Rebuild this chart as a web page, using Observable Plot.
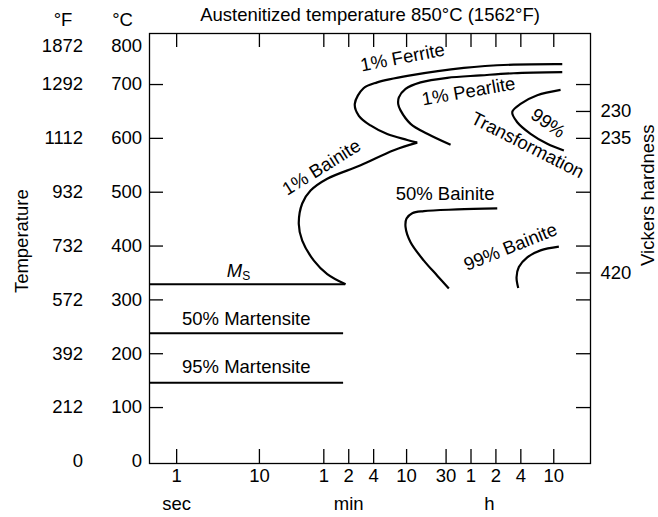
<!DOCTYPE html>
<html>
<head>
<meta charset="utf-8">
<script src="https://cdn.jsdelivr.net/npm/d3@7"></script>
<script src="https://cdn.jsdelivr.net/npm/@observablehq/plot@0.6"></script>
<style>
  html, body { margin: 0; padding: 0; background: #fff; }
  #chart svg { display: block; }
</style>
</head>
<body>
<div id="chart"></div>
<script>
// ---- Time axis (seconds, logarithmic) ----
const timeTicks = [1, 10, 60, 120, 240, 600, 1800, 3600, 7200, 14400, 36000];
const timeTickLabels = ["1", "10", "1", "2", "4", "10", "30", "1", "2", "4", "10"];
const timeUnits = ["sec", "min", "h"];
const timeUnitAt = [1, 120, 6000];
const timeStart = 0.47;
const timeEnd = 100000;

// ---- Temperature axis (°C) with °F column ----
const celsiusTicks = [0, 100, 200, 300, 400, 500, 600, 700, 800];
const fahrenheitLabels = ["0", "212", "392", "572", "732", "932", "1112", "1292", "1872"];
const innerCelsiusTicks = [100, 200, 300, 400, 500, 600, 700];

// ---- Vickers hardness marks on the right edge ----
const hardnessTicks = [100, 200, 300, 350, 400, 500, 600, 650, 700];
const hardnessLabels = ["", "", "", "420", "", "", "235", "230", ""];

// ---- Martensite lines: temperature (°C) and end time (s) ----
const martensiteNames = ["Ms", "50% Martensite", "95% Martensite"];
const martensiteTemps = [329, 238, 146];
const martensiteEnds = [110, 104, 104];

// ---- Transformation curves: time (s), temperature (°C) ----
const ferrite1Time = [45600, 11750, 2950, 668, 265, 181, 142, 159, 220, 350, 611, 807];
const ferrite1Temp = [738, 737, 731, 717, 704, 693, 664, 642, 624, 608, 597, 592];

const bainite1Time = [807, 421, 167, 66, 41.5, 32.9, 29.9, 32.9, 45.5, 66, 110];
const bainite1Temp = [592, 578, 550, 525, 503, 479, 441, 410, 373, 348, 329];

const pearlite1Time = [45600, 11750, 4700, 1860, 885, 583, 484, 476, 507, 670, 1066, 2040];
const pearlite1Temp = [723, 721, 717, 712.5, 704, 692, 676, 663, 652, 627, 608.5, 588];

const transf99Time = [43500, 22740, 14290, 11340, 13030, 18870, 30030, 47650];
const transf99Temp = [690, 680, 664, 649, 630, 608.5, 590, 577.5];

const bainite50Time = [7470, 2456, 970, 702, 599, 583, 670, 970, 1408, 1944];
const bainite50Temp = [470, 468, 465, 461, 451, 435, 407, 373, 345, 321];

const bainite99Time = [41470, 24920, 17220, 13630, 12780, 13400];
const bainite99Temp = [399, 392, 379, 361, 342, 322];

// ---- Curve labels: text, time (s), temperature (°C), angle (deg) ----
const labelTexts = ["1% Ferrite", "1% Pearlite", "99%", "Transformation", "1% Bainite",
                    "50% Bainite", "99% Bainite", "50% Martensite", "95% Martensite"];
const labelTimes = [536, 3365, 30700, 17360, 56.3, 1749, 10820, 6.93, 6.93];
const labelTemps = [750, 687, 628, 587, 546, 497, 398, 265, 175.5];
const labelAngles = [-11, -10, 35, 27, -32, 0, -22, 0, 0];

// Martensite-start symbol position
const msTime = 6.2;
const msTemp = 343;

// Build tables for the marks
function curve(name, times, temps) {
  return times.map((t, i) => ({name, t, T: temps[i]}));
}
const curves = [
  ...curve("1% Ferrite", ferrite1Time, ferrite1Temp),
  ...curve("1% Bainite", bainite1Time, bainite1Temp),
  ...curve("1% Pearlite", pearlite1Time, pearlite1Temp),
  ...curve("99% Transformation", transf99Time, transf99Temp),
  ...curve("50% Bainite", bainite50Time, bainite50Temp),
  ...curve("99% Bainite", bainite99Time, bainite99Temp)
];
const martensite = martensiteNames.map((name, i) => ({
  name, t1: timeStart, t2: martensiteEnds[i], T: martensiteTemps[i]
}));
const labels = labelTexts.map((text, i) => ({
  text, t: labelTimes[i], T: labelTemps[i], angle: labelAngles[i]
}));
const celsius = celsiusTicks.map((c, i) => ({c, f: fahrenheitLabels[i]}));
const hardness = hardnessTicks.map((T, i) => ({T, label: hardnessLabels[i]}));
const units = timeUnits.map((u, i) => ({u, t: timeUnitAt[i]}));

const W = 658, H = 517;
const mL = 149, mR = 68, mT = 33, mB = 54;
const innerW = W - mL - mR, innerH = H - mT - mB;
const tickLen = 14;
const ink = "#000";

const chart = Plot.plot({
  width: W,
  height: H,
  marginLeft: mL,
  marginRight: mR,
  marginTop: mT,
  marginBottom: mB,
  x: {type: "log", domain: [timeStart, timeEnd], axis: null},
  y: {domain: [-3.9, 794.8], axis: null},
  style: {
    fontFamily: "'Liberation Sans', Arial, Helvetica, sans-serif",
    fontSize: "18.5px",
    background: "#fff",
    color: ink
  },
  marks: [
    Plot.frame({stroke: ink, strokeWidth: 1.3}),

    // inward ticks on all four sides
    Plot.tickX(timeTicks, {x: d => d, stroke: ink, strokeWidth: 1.3, insetTop: innerH - tickLen}),
    Plot.tickX(timeTicks, {x: d => d, stroke: ink, strokeWidth: 1.3, insetBottom: innerH - tickLen}),
    Plot.tickY(innerCelsiusTicks, {y: d => d, stroke: ink, strokeWidth: 1.3, insetRight: innerW - tickLen}),
    Plot.tickY(hardness, {y: "T", stroke: ink, strokeWidth: 1.3, insetLeft: innerW - tickLen}),

    // time tick labels and units
    Plot.text(timeTicks, {x: d => d, text: (d, i) => timeTickLabels[i], frameAnchor: "bottom",
      lineAnchor: "bottom", dy: 18.4, fill: ink}),
    Plot.text(units, {x: "t", text: "u", frameAnchor: "bottom", lineAnchor: "bottom", dy: 46, fill: ink}),

    // °C and °F columns
    Plot.text(celsius.filter(d => d.c < 800), {y: "c", text: d => String(d.c), frameAnchor: "left",
      textAnchor: "end", dx: -7.5, fill: ink}),
    Plot.text(celsius.filter(d => d.c < 800), {y: "c", text: "f", frameAnchor: "left",
      textAnchor: "end", dx: -66.5, fill: ink}),
    Plot.text(celsius.filter(d => d.c === 800), {y: "c", text: d => String(d.c), frameAnchor: "left",
      textAnchor: "end", dx: -7.5, dy: 15.4, fill: ink}),
    Plot.text(celsius.filter(d => d.c === 800), {y: "c", text: "f", frameAnchor: "left",
      textAnchor: "end", dx: -66.5, dy: 15.4, fill: ink}),
    Plot.text(["°F"], {text: d => d, frameAnchor: "top-left", textAnchor: "middle", lineAnchor: "bottom",
      dx: -86.5, dy: -7.3, fill: ink}),
    Plot.text(["°C"], {text: d => d, frameAnchor: "top-left", textAnchor: "middle", lineAnchor: "bottom",
      dx: -27, dy: -7.3, fill: ink}),

    // hardness values
    Plot.text(hardness.filter(d => d.label), {y: "T", text: "label", frameAnchor: "right",
      textAnchor: "start", dx: 10, fill: ink}),

    // axis titles and heading
    Plot.text(["Temperature"], {text: d => d, frameAnchor: "left", textAnchor: "middle", rotate: -90,
      dx: -127, dy: -7.3, fill: ink}),
    Plot.text(["Vickers hardness"], {text: d => d, frameAnchor: "right", textAnchor: "middle",
      lineAnchor: "bottom", rotate: -90, dx: 63.5, dy: -53.3, fill: ink}),
    Plot.text(["Austenitized temperature 850°C (1562°F)"], {text: d => d, frameAnchor: "top",
      textAnchor: "middle", lineAnchor: "bottom", dy: -12.3, fill: ink}),

    // martensite lines
    Plot.ruleY(martensite, {y: "T", x1: "t1", x2: "t2", stroke: ink, strokeWidth: 2.1}),

    // transformation curves
    Plot.line(curves, {x: "t", y: "T", z: "name", curve: "catmull-rom", stroke: ink,
      strokeWidth: 2.2, strokeLinecap: "butt"}),

    // curve labels
    Plot.text(labels, {x: "t", y: "T", text: "text", rotate: "angle", fill: ink}),

    // M with subscript S
    Plot.text([{t: msTime, T: msTemp}], {x: "t", y: "T", text: () => "M", textAnchor: "end",
      lineAnchor: "bottom", fontStyle: "italic", fill: ink}),
    Plot.text([{t: msTime, T: msTemp}], {x: "t", y: "T", text: () => "S", textAnchor: "start",
      lineAnchor: "bottom", fontSize: 12, dy: 3.5, fill: ink})
  ]
});

document.getElementById("chart").appendChild(chart);
</script>
</body>
</html>
